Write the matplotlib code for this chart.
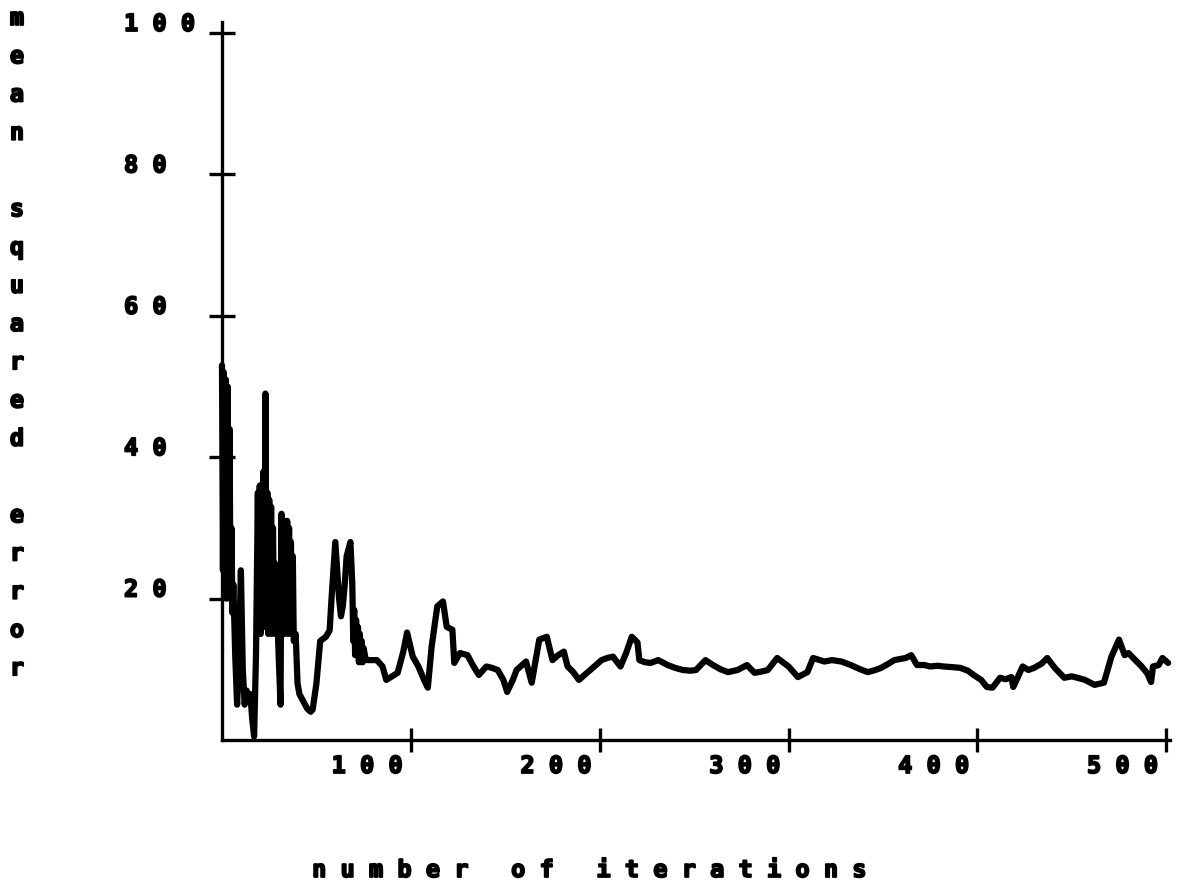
import matplotlib
matplotlib.use("Agg")
import matplotlib.pyplot as plt
import matplotlib.transforms as mtransforms
import matplotlib.patheffects as pe

# Learning curve: mean squared error versus training iteration
iterations = [
    0, 0.5, 1, 1.5, 2, 2.5, 3, 3.5, 4, 4.5, 5, 5.5, 6, 7, 8, 9, 10, 11, 12, 13,
    14, 15, 16, 17, 18, 19, 19.5, 20, 20.5, 21, 21.5, 22, 22.5, 23, 23.5, 24, 24.5, 25, 25.5, 26,
    26.5, 27, 27.5, 28, 28.5, 29, 30, 31, 31.5, 32, 32.5, 33, 33.5, 34, 34.5, 35, 35.5, 36, 36.5, 37,
    37.5, 38, 39, 40, 41, 42, 43, 44, 45, 46, 47, 48, 50, 52, 55, 57, 58, 59, 60, 61,
    62, 63, 64, 65, 66, 67, 68, 69, 69.5, 70, 70.5, 71, 71.5, 72, 72.5, 73, 73.5, 74, 74.5, 75,
    76, 77, 82, 85, 87, 90, 93, 96, 98, 101, 104, 107, 109, 111, 114, 117, 119, 122, 123, 126,
    130, 133, 136, 140, 143, 146, 149, 151, 154, 156, 161, 164, 168, 172, 175, 178, 181, 183, 186, 189,
    192, 195, 198, 201, 204, 207, 211, 214, 217, 220, 221, 224, 227, 231, 236, 240, 244, 248, 251, 256,
    260, 264, 268, 273, 278, 282, 286, 289, 294, 300, 305, 310, 313, 319, 323, 328, 333, 338, 342, 346,
    349, 353, 356, 362, 365, 368, 372, 375, 379, 382, 387, 391, 395, 398, 402, 405, 408, 412, 415, 418,
    419, 424, 427, 430, 434, 437, 441, 446, 450, 453, 457, 462, 467, 471, 475, 478, 480, 484, 487, 490,
    492, 493, 496, 498, 501,
]
mse = [
    53, 24, 52, 21, 51, 20, 50, 22, 44, 20, 30, 18, 22, 12, 5, 12, 24, 10, 5, 7,
    6, 6.5, 3, 0.5, 12, 35, 16, 36, 15, 35, 17, 38, 16, 49, 18, 35, 15, 34, 16, 33,
    15, 30, 17, 25, 15, 20, 12, 5, 32, 16, 31, 15, 30, 16, 31, 15, 30, 16, 28, 15,
    26, 14, 15, 8, 6.5, 6, 5.5, 5, 4.5, 4.2, 4.0, 4.3, 8, 14, 14.6, 15.5, 20, 24, 28, 24,
    20, 17.5, 19, 22, 26, 27, 28, 22, 14, 18.4, 12, 17, 12, 16, 11, 15, 11, 14, 11, 13,
    11.5, 11.3, 11.3, 10.4, 8.5, 9.0, 9.5, 12.5, 15.2, 11.8, 10.4, 8.5, 7.4, 13.2, 18.9, 19.6, 16, 15.6, 10.9, 12.3,
    12, 10.5, 9.2, 10.4, 10.2, 9.9, 8.5, 6.8, 8.5, 9.9, 11.1, 8.1, 14.2, 14.6, 11.3, 12.0, 12.5, 10.4, 9.6, 8.5,
    9.2, 9.9, 10.6, 11.3, 11.6, 11.8, 10.4, 12.3, 14.6, 13.8, 11.3, 11.0, 10.9, 11.3, 10.6, 10.2, 9.9, 9.8, 9.9, 11.3,
    10.6, 10.0, 9.6, 9.9, 10.6, 9.5, 9.7, 9.9, 11.6, 10.4, 8.9, 9.6, 11.6, 11.1, 11.3, 11.1, 10.6, 10.0, 9.6, 9.9,
    10.2, 10.8, 11.3, 11.6, 12.0, 10.6, 10.6, 10.4, 10.5, 10.4, 10.3, 10.2, 9.8, 9.2, 8.5, 7.5, 7.4, 8.8, 8.6, 8.9,
    7.5, 10.4, 9.9, 10.2, 10.8, 11.6, 10.2, 8.8, 9.0, 8.8, 8.5, 7.8, 8.1, 11.8, 14.2, 12.0, 12.3, 11.2, 10.4, 9.4,
    8.2, 10.4, 10.6, 11.6, 10.9,
]

y_ticks = [20, 40, 60, 80, 100]
y_tick_labels = ["2 0", "4 0", "6 0", "8 0", "1 0 0"]
x_ticks = [100, 200, 300, 400, 500]
x_tick_labels = ["1 0 0", "2 0 0", "3 0 0", "4 0 0", "5 0 0"]
x_title = "n u m b e r   o f   i t e r a t i o n s"
y_title = "mean squared error"

W, H, DPI = 1178, 891, 100
fig = plt.figure(figsize=(W / DPI, H / DPI), dpi=DPI)
ax = fig.add_axes([222 / W, (H - 740) / H, 948 / W, 717.6 / H])

ax.plot(iterations, mse, color="black", linewidth=4.5,
        solid_joinstyle="round", solid_capstyle="round", clip_on=False)

ax.set_xlim(0, 502)
ax.set_ylim(0, 101.5)

for side in ("top", "right"):
    ax.spines[side].set_visible(False)
for side in ("left", "bottom"):
    ax.spines[side].set_linewidth(2.4)
    ax.spines[side].set_color("black")

ax.set_xticks(x_ticks)
ax.set_yticks(y_ticks)
ax.set_xticklabels([])
ax.set_yticklabels([])
ax.tick_params(axis="y", direction="inout", length=19, width=2.4, color="black")
ax.tick_params(axis="x", direction="inout", length=17, width=2.4, color="black")

# heavy pen look for all lettering
heavy = [pe.withStroke(linewidth=1.3, foreground="black")]
font = dict(family="DejaVu Sans Mono", fontweight="bold", color="black",
            path_effects=heavy)

# y tick labels: left-aligned in a column, sitting just above each tick
ytrans = mtransforms.blended_transform_factory(fig.transFigure, ax.transData)
for val, lab in zip(y_ticks, y_tick_labels):
    ax.text(124 / W, val, lab,
            transform=ytrans + mtransforms.ScaledTranslation(0, 9 / DPI, fig.dpi_scale_trans),
            ha="left", va="center", fontsize=17, **font)

# x tick labels: the last digit sits under its tick
xtrans = mtransforms.blended_transform_factory(ax.transData, fig.transFigure)
for val, lab in zip(x_ticks, x_tick_labels):
    ax.text(val, (H - 766) / H, lab,
            transform=xtrans + mtransforms.ScaledTranslation(-8 / DPI, 0, fig.dpi_scale_trans),
            ha="right", va="center", fontsize=17, **font)

fig.text(590 / W, (H - 870) / H, x_title, ha="center", va="center", fontsize=17, **font)

# y title: one upright letter per row
fig.text(17 / W, (H - 6) / H, "\n".join(y_title), ha="center", va="top",
         fontsize=17, linespacing=1.75, **font)

fig.savefig("out.png", dpi=DPI)
